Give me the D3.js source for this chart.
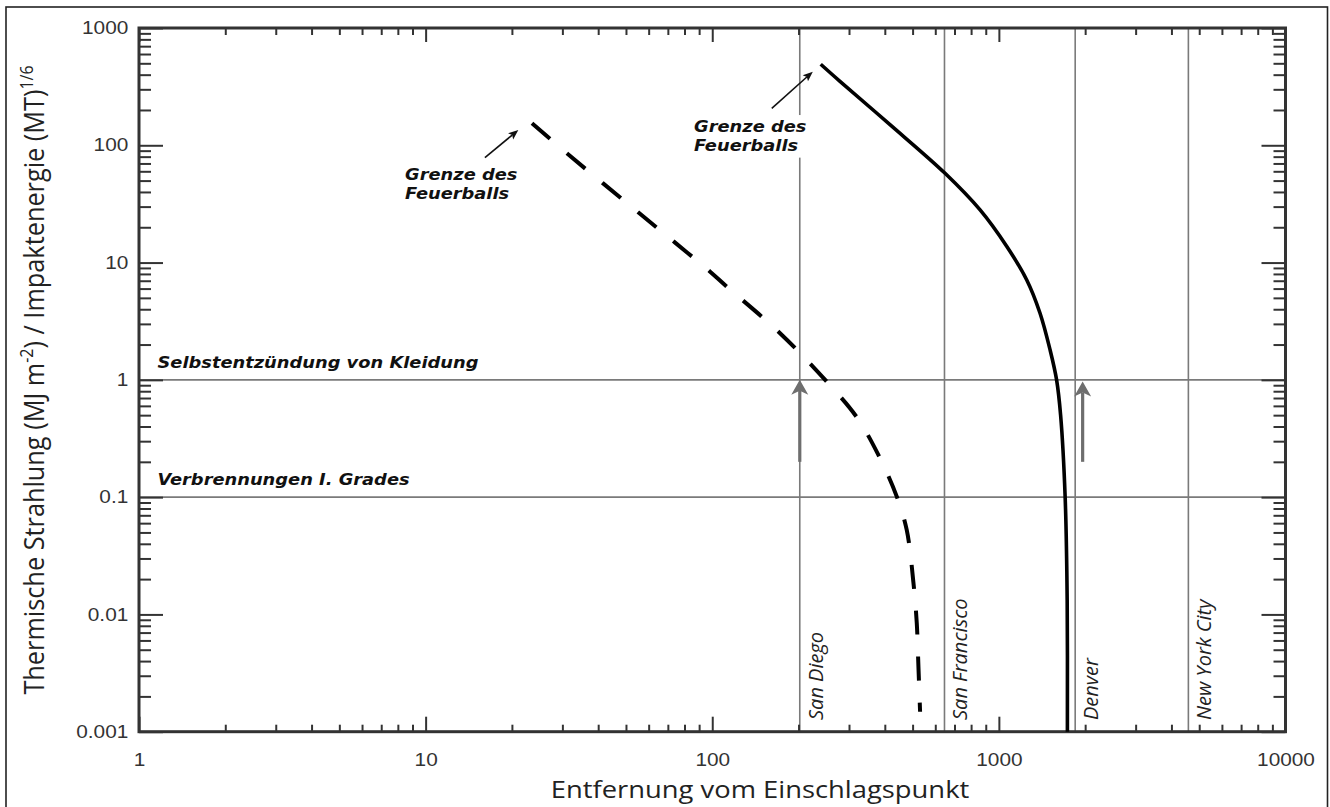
<!DOCTYPE html>
<html><head><meta charset="utf-8">
<script src="https://cdn.jsdelivr.net/npm/d3@7"></script>
<style>body{margin:0;background:#fff}svg{display:block}</style>
</head><body><svg id="c" width="1330" height="807"></svg>
<script>
// ---------------- data ----------------
const xTicks = [1, 10, 100, 1000, 10000];
const xTickLabels = ["1", "10", "100", "1000", "10000"];
const yTicks = [0.001, 0.01, 0.1, 1, 10, 100, 1000];
const yTickLabels = ["0.001", "0.01", "0.1", "1", "10", "100", "1000"];

// solid curve (large impact)
const solidDist = [239, 279, 417, 649, 860, 1066, 1251, 1392, 1509, 1590, 1642, 1703, 1731, 1734];
const solidVal  = [491, 351, 150, 57.7, 28.1, 13.7, 7.11, 3.70, 1.80, 1.0, 0.5, 0.1, 0.0133, 0.001];

// dashed curve (smaller impact)
const dashedDist = [23.5, 31.1, 55.7, 74.2, 98.3, 112.4, 172.4, 250.9, 319.4, 379.8, 440.4, 477, 503, 517, 524, 531];
const dashedVal  = [154, 85.5, 26.3, 14.8, 8.36, 6.23, 2.50, 0.965, 0.48, 0.229, 0.101, 0.0525, 0.019, 0.00846, 0.00359, 0.00148];

const cities = ["San Diego", "San Francisco", "Denver", "New York City"];
const cityDist = [202, 646, 1846, 4583];

const thresholdNames = ["Selbstentzündung von Kleidung", "Verbrennungen I. Grades"];
const thresholdVals = [1, 0.1];
const thresholdLabelDist = [1.16, 1.16];

const ignitionArrowDist = [202, 1960];
const ignitionArrowFrom = [0.2, 0.2];
const ignitionArrowTo = [1, 0.97];

const fireballLabel = ["Grenze des", "Feuerballs"];
const fireballLabelDist = [8.48, 86.4];
const fireballLabelVal = [50.6, 130.6];
const fireballTailDist = [16.1, 161.3];
const fireballTailVal = [78.4, 206.7];
const fireballTipDist = [21.06, 224.3];
const fireballTipVal = [135, 424];

const xTitle = "Entfernung vom Einschlagspunkt";

// ---------------- drawing ----------------
const SX = 1.19; // horizontal stretch of the original picture
const svg = d3.select("#c");
const L = 139, R = 1285.5, T = 28, B = 731.7;
const x = d3.scaleLog().domain([1, 10000]).range([L, R]);
const y = d3.scaleLog().domain([0.001, 1000]).range([B, T]);

svg.append("rect").attr("width", 1330).attr("height", 807).attr("fill", "#fff");
// outer frame
svg.append("rect").attr("x", 6).attr("y", 7).attr("width", 1321.5).attr("height", 820)
  .attr("fill", "none").attr("stroke", "#222").attr("stroke-width", 1.6);

const minorX = [], minorY = [];
[1, 10, 100, 1000].forEach(d => { for (let k = 2; k <= 9; k++) minorX.push(d * k); });
[0.001, 0.01, 0.1, 1, 10, 100].forEach(d => { for (let k = 2; k <= 9; k++) minorY.push(+(d * k).toPrecision(3)); });

// reference lines
const grid = svg.append("g").attr("stroke", "#7a7a7a").attr("stroke-width", 1.6);
grid.selectAll(".vl").data(cityDist).join("line")
  .attr("x1", d => x(d)).attr("x2", d => x(d)).attr("y1", T).attr("y2", B);
grid.selectAll(".hl").data(thresholdVals).join("line")
  .attr("x1", L).attr("x2", R).attr("y1", d => y(d)).attr("y2", d => y(d));

// axes ticks
function axisStyle(g) {
  g.select(".domain").remove();
  g.attr("color", "#333");
  g.selectAll(".tick line").attr("stroke-width", 2);
}
svg.append("g").attr("transform", `translate(0,${B})`)
  .call(d3.axisBottom(x).tickValues(minorX).tickSize(-7).tickFormat("")).call(axisStyle);
svg.append("g").attr("transform", `translate(0,${T})`)
  .call(d3.axisTop(x).tickValues(minorX).tickSize(-7).tickFormat("")).call(axisStyle);
svg.append("g").attr("transform", `translate(0,${T})`)
  .call(d3.axisTop(x).tickValues(xTicks).tickSize(-14).tickFormat("")).call(axisStyle);
svg.append("g").attr("transform", `translate(${L},0)`)
  .call(d3.axisLeft(y).tickValues(minorY).tickSize(-12).tickFormat("")).call(axisStyle);
svg.append("g").attr("transform", `translate(${R},0)`)
  .call(d3.axisRight(y).tickValues(minorY).tickSize(-12).tickFormat("")).call(axisStyle);
svg.append("g").attr("transform", `translate(${R},0)`)
  .call(d3.axisRight(y).tickValues(yTicks).tickSize(-24).tickFormat("")).call(axisStyle);

const gxB = svg.append("g").attr("transform", `translate(0,${B})`)
  .call(d3.axisBottom(x).tickValues(xTicks).tickSize(-15).tickPadding(22)
    .tickFormat((d, i) => xTickLabels[i])).call(axisStyle);
gxB.selectAll("text").attr("font-family", "'Liberation Sans', Arial, sans-serif")
  .attr("font-size", 17.5).attr("fill", "#333").attr("transform", `scale(${SX},1)`);

const gyL = svg.append("g").attr("transform", `translate(${L},0)`)
  .call(d3.axisLeft(y).tickValues(yTicks).tickSize(-24).tickPadding(9)
    .tickFormat((d, i) => yTickLabels[i])).call(axisStyle);
gyL.selectAll("text").attr("font-family", "'Liberation Sans', Arial, sans-serif")
  .attr("font-size", 17.5).attr("fill", "#333").attr("transform", `scale(${SX},1)`);

// plot frame
svg.append("rect").attr("x", L).attr("y", T).attr("width", R - L).attr("height", B - T)
  .attr("fill", "none").attr("stroke", "#333").attr("stroke-width", 3);

// curves
const line = d3.line().x(d => x(d[0])).y(d => y(d[1])).curve(d3.curveCatmullRom.alpha(0.5));
svg.append("path").datum(dashedDist.map((d, i) => [d, dashedVal[i]]))
  .attr("d", line).attr("fill", "none").attr("stroke", "#000")
  .attr("stroke-width", 4).attr("stroke-dasharray", "24,22");
svg.append("path").datum(solidDist.map((d, i) => [d, solidVal[i]]))
  .attr("d", line).attr("fill", "none").attr("stroke", "#000")
  .attr("stroke-width", 3.6);

// arrow helper
function arrow(g, x0, y0, x1, y1, len, hw, notch, color, sw) {
  const dx = x1 - x0, dy = y1 - y0, m = Math.hypot(dx, dy);
  const ux = dx / m, uy = dy / m, px = -uy, py = ux;
  const bx = x1 - ux * len, by = y1 - uy * len;
  const nx = x1 - ux * (len - notch), ny = y1 - uy * (len - notch);
  g.append("line").attr("x1", x0).attr("y1", y0).attr("x2", nx).attr("y2", ny)
    .attr("stroke", color).attr("stroke-width", sw);
  g.append("path").attr("d", `M${x1},${y1}L${bx + px * hw},${by + py * hw}L${nx},${ny}L${bx - px * hw},${by - py * hw}Z`)
    .attr("fill", color);
}

// gray arrows
const ga = svg.append("g");
ignitionArrowDist.forEach((d, i) => {
  arrow(ga, x(d), y(ignitionArrowFrom[i]), x(d), y(ignitionArrowTo[i]), 15, 8.5, 4, "#6e6e6e", 3.2);
});

// threshold labels
thresholdNames.forEach((t, i) => {
  svg.append("text")
    .attr("transform", `translate(${x(thresholdLabelDist[i])},${y(thresholdVals[i]) - 12}) scale(${SX},1)`)
    .attr("font-family", "'DejaVu Sans', Verdana, sans-serif").attr("font-weight", "bold")
    .attr("font-style", "italic").attr("font-size", 15).attr("fill", "#111").text(t);
});

// fireball labels
fireballLabelDist.forEach((d, i) => {
  const g = svg.append("g").attr("transform", `translate(${x(d)},${y(fireballLabelVal[i])}) scale(${SX},1)`);
  const tg = g.append("g");
  fireballLabel.forEach((t, j) => {
    tg.append("text").attr("y", j * 19.3)
      .attr("font-family", "'DejaVu Sans', Verdana, sans-serif").attr("font-weight", "bold")
      .attr("font-style", "italic").attr("font-size", 15).attr("fill", "#111").text(t);
  });
  const bb = tg.node().getBBox();
  g.insert("rect", ":first-child").attr("x", bb.x - 2).attr("y", bb.y - 3)
    .attr("width", bb.width + 4).attr("height", bb.height + 6).attr("fill", "#fff");
  arrow(svg, x(fireballTailDist[i]), y(fireballTailVal[i]), x(fireballTipDist[i]), y(fireballTipVal[i]), 10, 4, 2, "#111", 1.6);
});

// city labels
cities.forEach((c, i) => {
  svg.append("text")
    .attr("transform", `translate(${x(cityDist[i]) + 23},720) rotate(-90)`)
    .attr("font-family", "'Open Sans', sans-serif").attr("font-style", "italic")
    .attr("font-size", 20).attr("fill", "#222").text(c);
});

// axis titles
svg.append("text").attr("transform", `translate(760,798) scale(${SX},1)`)
  .attr("text-anchor", "middle").attr("font-family", "'Open Sans', sans-serif")
  .attr("font-size", 23).attr("fill", "#222").text(xTitle);

const yt = svg.append("text").attr("transform", `translate(44,380) scale(1.08,1) rotate(-90)`)
  .attr("text-anchor", "middle").attr("font-family", "'Open Sans', sans-serif")
  .attr("font-size", 25.3).attr("fill", "#222");
yt.append("tspan").text("Thermische Strahlung (MJ m");
yt.append("tspan").attr("font-size", 16).attr("dy", -10).text("-2");
yt.append("tspan").attr("dy", 10).text(") / Impaktenergie (MT)");
yt.append("tspan").attr("font-size", 16).attr("dy", -10).text("1/6");
</script>
</body></html>
